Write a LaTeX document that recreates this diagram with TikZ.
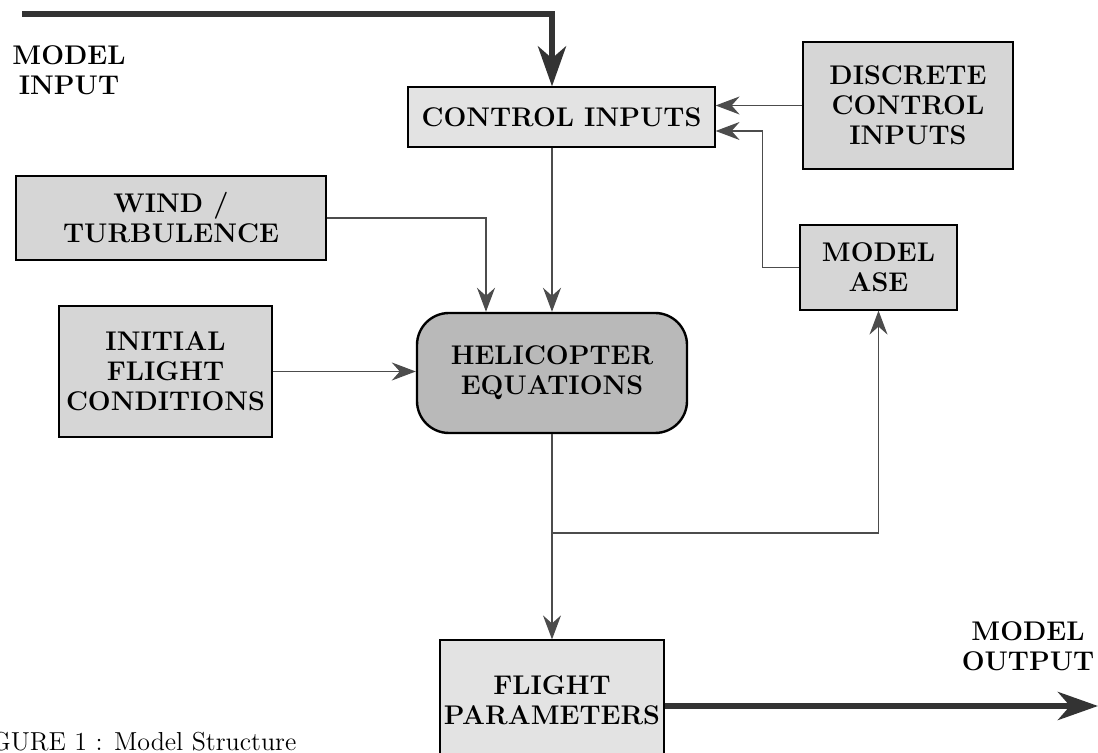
\documentclass[tikz,border=0pt]{standalone}
\usepackage{tikz}
\usetikzlibrary{arrows.meta, positioning}

\begin{document}
\begin{tikzpicture}[x=0.5pt,y=-0.5pt,
  font=\fontsize{13.5}{15}\selectfont\bfseries,
  block/.style={draw, line width=0.6pt, fill=gray!22, align=center, inner sep=0pt},
  darkblock/.style={block, fill=gray!32},
  eqnblock/.style={block, fill=gray!55, line width=1.2pt, rounded corners=16pt},
  sig/.style={draw=gray!60!black, line width=0.6pt, -{Stealth[length=12pt,width=9pt,inset=4pt]}},
  bus/.style={draw=black!80, line width=3pt, -{Stealth[length=20pt,width=14pt,inset=6pt]}}]
\useasboundingbox (0,0) rectangle (1098,753);
% blocks
\node[block, minimum width=153.5pt, minimum height=30pt] (ctrl) at (561.5,117) {CONTROL INPUTS};
\node[darkblock, minimum width=105pt, minimum height=63.5pt] (disc) at (908,105.5) {DISCRETE\\CONTROL\\INPUTS};
\node[darkblock, minimum width=78.5pt, minimum height=42.5pt] (ase) at (878.5,267.5) {MODEL\\ASE};
\node[darkblock, minimum width=155pt, minimum height=42pt] (wind) at (171,218) {WIND /\\TURBULENCE};
\node[darkblock, minimum width=106.5pt, minimum height=65.5pt] (init) at (165.5,371.5) {INITIAL\\FLIGHT\\CONDITIONS};
\node[eqnblock, minimum width=135pt, minimum height=60pt] (heli) at (552,373) {HELICOPTER\\EQUATIONS};
\node[block, minimum width=112pt, minimum height=60pt] (flight) at (552,700) {FLIGHT\\PARAMETERS};
% free labels
\node[align=center] (min) at (69,70) {MODEL\\INPUT};
\node[align=center] (mout) at (1028,646) {MODEL\\OUTPUT};
\node[anchor=base west, font=\fontsize{13}{15}\selectfont] (cap) at (-42,750) {FIGURE 1 : Model Structure};
% connectors
\coordinate (in) at (22,14);
\coordinate (split) at (552,533);
\coordinate (out) at (1098,706);
\draw[bus] (in) -| (ctrl.north -| heli.north);
\draw[sig] (disc.west) -- (ctrl.east |- disc.west);
\draw[sig] (ase.west) -- ++(-37,0) |- ([yshift=-7pt]ctrl.east);
\draw[sig] (ctrl.south -| heli.north) -- (heli.north);
\draw[sig] (wind.east) -| ([xshift=-33pt]heli.north);
\draw[sig] (init.east) -- (init.east -| heli.west);
\draw[sig] (heli.south) -- (flight.north);
\draw[sig] (split) -| (ase.south);
\draw[bus] ([yshift=-3pt]flight.east) -- (out);
\end{tikzpicture}
\end{document}
